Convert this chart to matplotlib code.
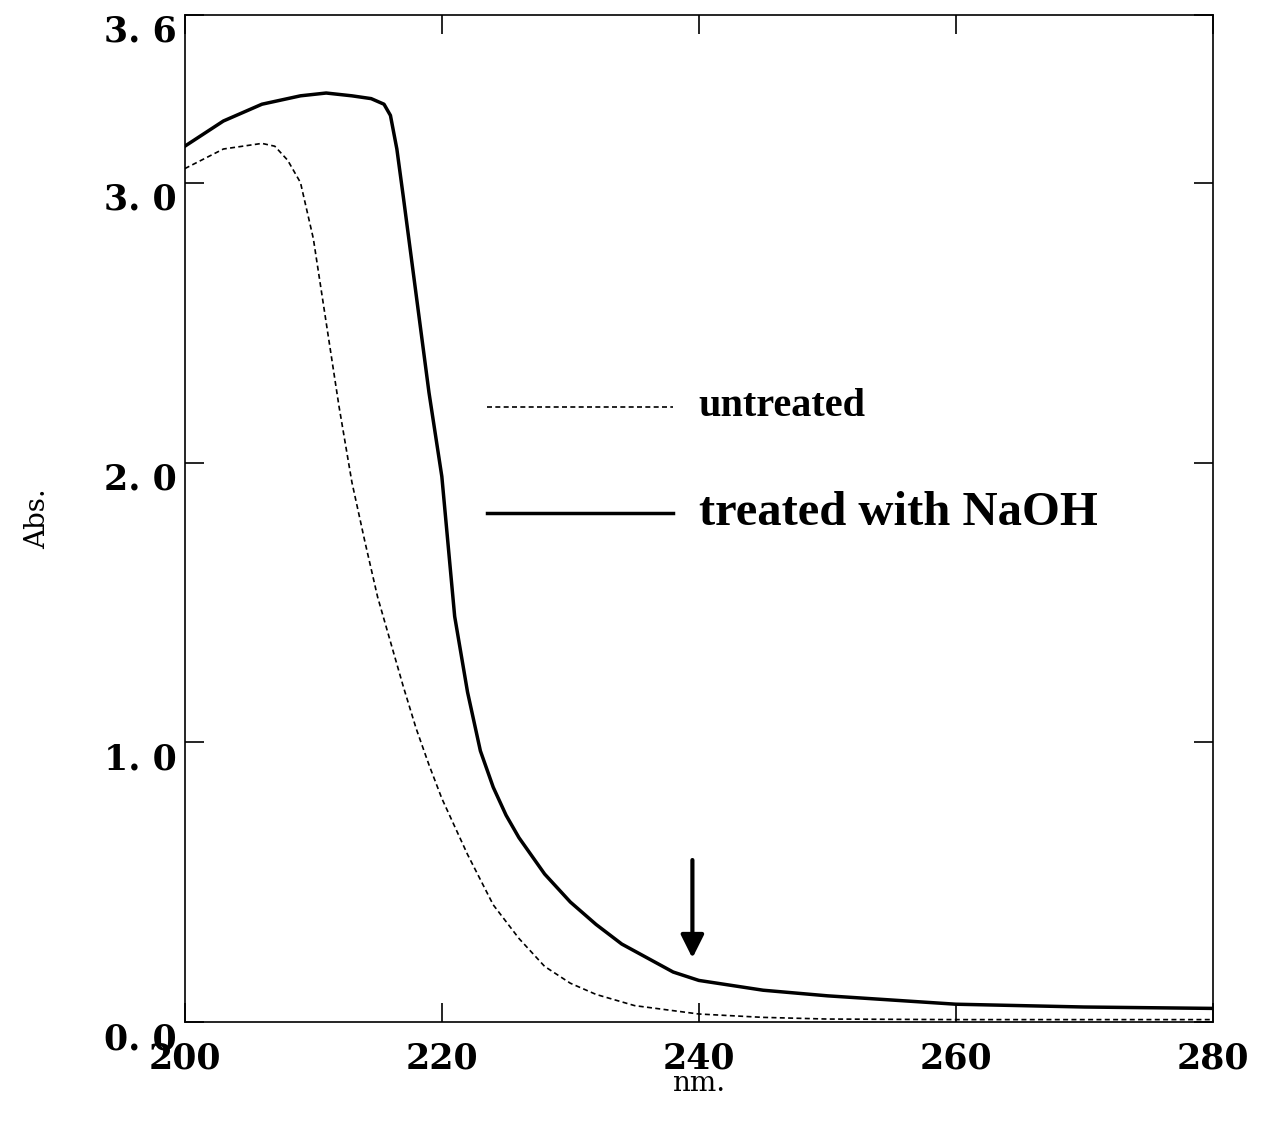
import numpy as np
import matplotlib.pyplot as plt

plt.rcParams['font.family'] = ['DejaVu Serif', 'Liberation Serif']
plt.rcParams['font.weight'] = 'bold'

# absorbance spectra
wl_treated = [200, 203, 206, 209, 211, 213, 214.5, 215.5, 216, 216.5, 217, 218, 219, 220, 221,
              222, 223, 224, 225, 226, 228, 230, 232, 234, 236, 238, 240, 245, 250, 255, 260, 270, 280]
abs_treated = [3.13, 3.22, 3.28, 3.31, 3.32, 3.31, 3.30, 3.28, 3.24, 3.12, 2.95, 2.6, 2.25, 1.95,
               1.45, 1.18, 0.97, 0.84, 0.74, 0.66, 0.53, 0.43, 0.35, 0.28, 0.23, 0.18, 0.15,
               0.115, 0.095, 0.08, 0.065, 0.055, 0.05]
wl_untreated = [200, 203, 206, 207, 208, 209, 210, 211, 212, 213, 214, 215, 216, 217, 218, 219,
                220, 222, 224, 226, 228, 230, 232, 235, 240, 245, 250, 260, 280]
abs_untreated = [3.05, 3.12, 3.14, 3.13, 3.08, 3.0, 2.8, 2.5, 2.2, 1.93, 1.72, 1.52, 1.36, 1.2,
                 1.05, 0.92, 0.8, 0.6, 0.42, 0.3, 0.2, 0.14, 0.1, 0.06, 0.03, 0.018, 0.012, 0.01, 0.01]

fig = plt.figure(figsize=(12.66, 11.26), dpi=100)
ax = fig.add_axes([0.146, 0.092, 0.812, 0.895])

ax.plot(wl_untreated, abs_untreated, 'k--', lw=1.2, dashes=(3, 2))
ax.plot(wl_treated, abs_treated, 'k-', lw=2.5)

ax.set_xlim(200, 280)
ax.set_ylim(0, 3.6)
ax.set_xticks([200, 220, 240, 260, 280])
ax.set_yticks([0, 1, 2, 3, 3.6])
ax.set_yticklabels(['0. 0', '1. 0', '2. 0', '3. 0', '3. 6'], va='top')
ax.tick_params(direction='in', length=14, width=1.2, labelsize=25, right=True, top=True)
ax.tick_params(axis='x', pad=14)
ax.tick_params(axis='y', pad=6)
for s in ax.spines.values():
    s.set_linewidth(1.2)

ax.set_xlabel('nm.', fontsize=20, labelpad=-4)
ax.set_ylabel('Abs.', fontsize=20, labelpad=38)

# legend drawn by hand like in the figure
ax.plot([223.5, 238], [2.2, 2.2], 'k--', lw=1.2, dashes=(3, 2))
ax.plot([223.5, 238], [1.82, 1.82], 'k-', lw=2.5)
ax.text(240, 2.2, 'untreated', fontsize=29, va='center', fontweight='bold',
        family='Liberation Serif')
ax.text(240, 1.82, 'treated with NaOH', fontsize=35, va='center', fontweight='bold',
        family='Liberation Serif')

ax.annotate('', xy=(239.5, 0.22), xytext=(239.5, 0.59),
            arrowprops=dict(arrowstyle='-|>', color='k', lw=3, mutation_scale=35))

fig.savefig('out.png', dpi=100)
